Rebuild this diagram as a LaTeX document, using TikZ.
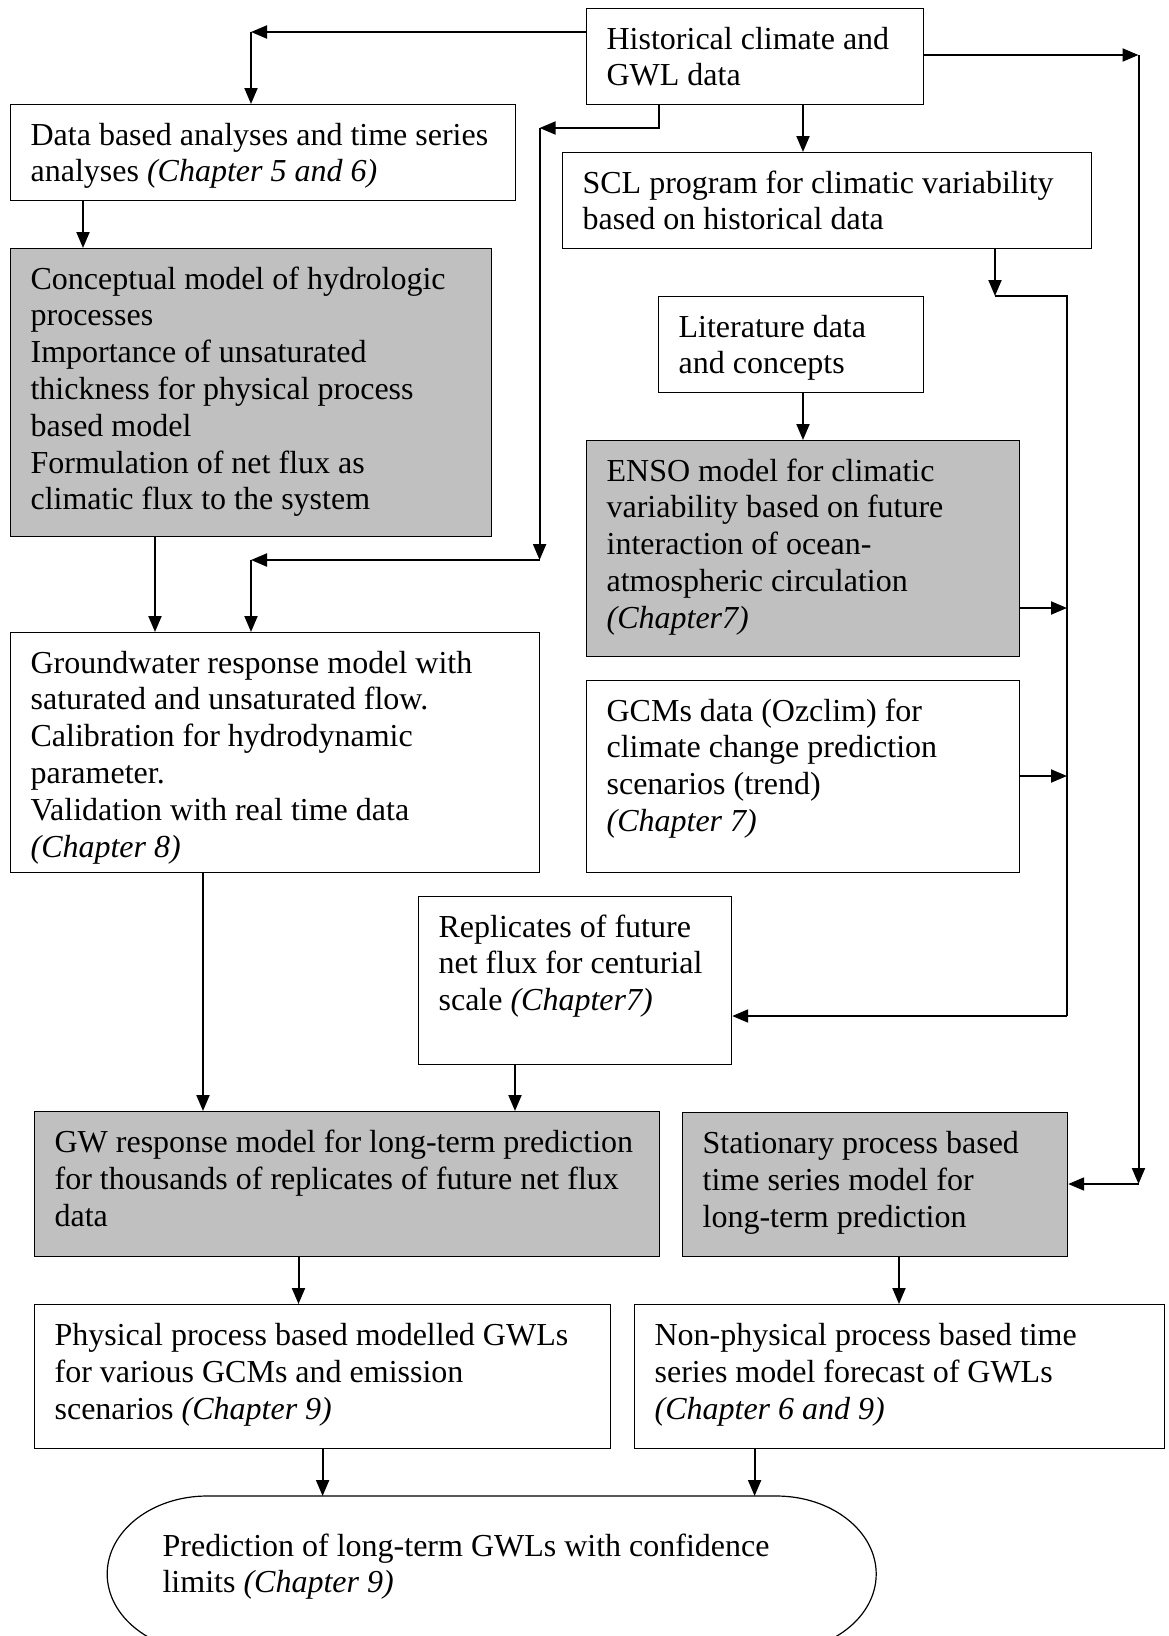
\documentclass[tikz,border=0pt]{standalone}
\usepackage{fontspec}
\setmainfont{Liberation Serif}
\usetikzlibrary{arrows.meta}
\definecolor{boxgray}{RGB}{192,192,192}
\newcommand{\boxlines}[1]{\begin{tabular}[t]{@{}l@{}}#1\end{tabular}}

\begin{document}
\begin{tikzpicture}[x=1pt, y=-1pt,
  box/.style={draw, line width=1.2pt, anchor=north west, align=flush left, inner xsep=20pt, inner ysep=0pt, text height=40.5pt, font=\fontsize{32}{36.8}\selectfont},
  shaded/.style={box, fill=boxgray},
  arr/.style={line width=2pt, -{Triangle[length=16pt, width=13pt]}},
  link/.style={line width=2pt}]
  \fill[white] (0,0) rectangle (1168,1636);
  \useasboundingbox (0,0) rectangle (1168,1636);

  \node[box, text width=297pt, text depth=55.5pt] (hist) at (586,8) {\boxlines{Historical climate and\\GWL data}};
  \node[box, text width=465pt, text depth=55.5pt] (data) at (10,104) {\boxlines{Data based analyses and time series\\analyses \textit{(Chapter 5 and 6)}}};
  \node[box, text width=489pt, text depth=55.5pt] (scl) at (562,152) {\boxlines{SCL program for climatic variability\\based on historical data}};
  \node[shaded, text width=441pt, text depth=247.5pt] (concept) at (10,248) {\boxlines{Conceptual model of hydrologic\\processes\\Importance of unsaturated\\thickness for physical process\\based model\\Formulation of net flux as\\climatic flux to the system}};
  \node[box, text width=225pt, text depth=55.5pt] (lit) at (658,296) {\boxlines{Literature data\\and concepts}};
  \node[shaded, text width=393pt, text depth=175.5pt] (enso) at (586,440) {\boxlines{ENSO model for climatic\\variability based on future\\interaction of ocean-\\atmospheric circulation\\\textit{(Chapter7)}}};
  \node[box, text width=489pt, text depth=199.5pt] (gwresp) at (10,632) {\boxlines{Groundwater response model with\\saturated and unsaturated flow.\\Calibration for hydrodynamic\\parameter.\\Validation with real time data\\\textit{(Chapter 8)}}};
  \node[box, text width=393pt, text depth=151.5pt] (gcm) at (586,680) {\boxlines{GCMs data (Ozclim) for\\climate change prediction\\scenarios (trend)\\\textit{(Chapter 7)}}};
  \node[box, text width=273pt, text depth=127.5pt] (repl) at (418,896) {\boxlines{Replicates of future\\net flux for centurial\\scale \textit{(Chapter7)}}};
  \node[shaded, text width=585pt, text height=41pt, text depth=104pt] (gwlong) at (34,1111) {\boxlines{GW response model for long-term prediction\\for thousands of replicates of future net flux\\data}};
  \node[shaded, text width=345pt, text height=41pt, text depth=103pt] (stat) at (682,1112) {\boxlines{Stationary process based\\time series model for\\long-term prediction}};
  \node[box, text width=536pt, text height=41pt, text depth=103pt] (phys) at (34,1304) {\boxlines{Physical process based modelled GWLs\\for various GCMs and emission\\scenarios \textit{(Chapter 9)}}};
  \node[box, text width=490pt, text height=41pt, text depth=103pt] (nonphys) at (634,1304) {\boxlines{Non-physical process based time\\series model forecast of GWLs\\\textit{(Chapter 6 and 9)}}};
  \node[box, draw=none, inner xsep=56pt, text width=657pt, text height=59.4pt, text depth=74.6pt] (pred) at (106,1496) {\boxlines{Prediction of long-term GWLs with confidence\\limits \textit{(Chapter 9)}}};
  \draw[line width=1.2pt] ([xshift=100pt]pred.north west) -- ([xshift=-100pt]pred.north east)
    arc[start angle=90, end angle=-90, x radius=100pt, y radius=78pt] -- ++(-569pt,0)
    arc[start angle=270, end angle=90, x radius=100pt, y radius=78pt] -- cycle;

  % corners and columns of the connectors
  \coordinate (jTL) at (251,32);
  \coordinate (jR) at (1138.5,55);
  \coordinate (jRB) at (1138.5,1184);
  \coordinate (jH) at (659,128);
  \coordinate (jM) at (539.6,128);
  \coordinate (jMB) at (539.6,560);
  \coordinate (jL) at (251,560);
  \coordinate (jS) at (995,296);
  \coordinate (jV) at (1067,296);
  \coordinate (jVB) at (1067,1016);
  \coordinate (jE) at (1067,608);
  \coordinate (jG) at (1067,776);
  \coordinate (cHS) at (803,0);
  \coordinate (cDC) at (83,0);
  \coordinate (cCG) at (155,0);
  \coordinate (cGW) at (203,0);
  \coordinate (cRP) at (515,0);
  \coordinate (cLP) at (298.5,0);
  \coordinate (cSN) at (899,0);
  \coordinate (cPP) at (322.6,0);
  \coordinate (cNP) at (754.6,0);

  \draw[arr] (hist.west |- jTL) -- (jTL);
  \draw[arr] (jTL) -- (data.north -| jTL);
  \draw[arr] (hist.east |- jR) -- (jR);
  \draw[arr] (jR) -- (jRB);
  \draw[arr] (jRB) -- (stat.east |- jRB);
  \draw[arr] (hist.south -| jH) -- (jH) -- (jM);
  \draw[arr] (jM) -- (jMB);
  \draw[arr] (jMB) -- (jL);
  \draw[arr] (jL) -- (gwresp.north -| jL);
  \draw[arr] (hist.south -| cHS) -- (scl.north -| cHS);
  \draw[arr] (lit.south -| cHS) -- (enso.north -| cHS);
  \draw[arr] (data.south -| cDC) -- (concept.north -| cDC);
  \draw[arr] (concept.south -| cCG) -- (gwresp.north -| cCG);
  \draw[arr] (scl.south -| jS) -- (jS);
  \draw[link] (jS) -- (jV) -- (jVB);
  \draw[arr] (jVB) -- (repl.east |- jVB);
  \draw[arr] (enso.east |- jE) -- (jE);
  \draw[arr] (gcm.east |- jG) -- (jG);
  \draw[arr] (gwresp.south -| cGW) -- (gwlong.north -| cGW);
  \draw[arr] (repl.south -| cRP) -- (gwlong.north -| cRP);
  \draw[arr] (gwlong.south -| cLP) -- (phys.north -| cLP);
  \draw[arr] (stat.south -| cSN) -- (nonphys.north -| cSN);
  \draw[arr] (phys.south -| cPP) -- (pred.north -| cPP);
  \draw[arr] (nonphys.south -| cNP) -- (pred.north -| cNP);
\end{tikzpicture}
\end{document}
